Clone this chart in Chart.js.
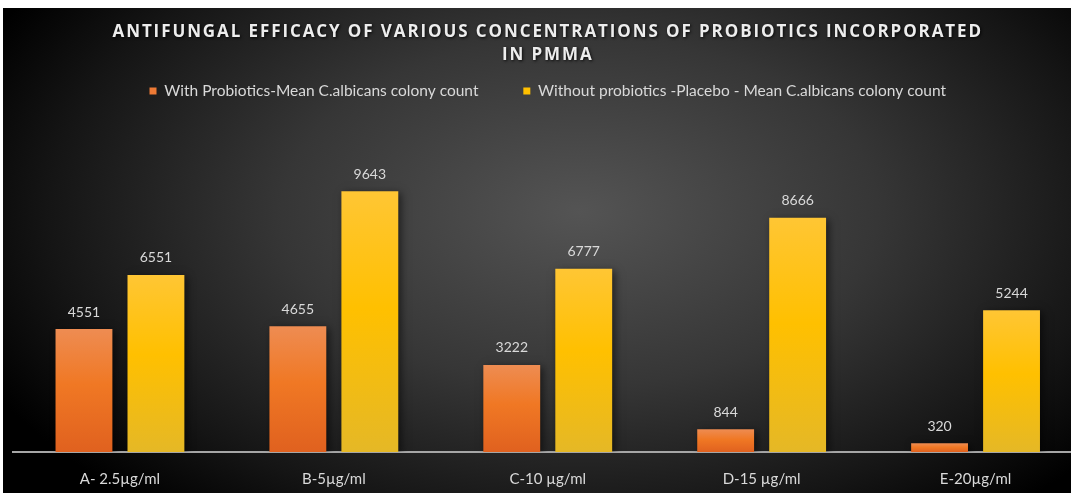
<!DOCTYPE html>
<html>
<head>
<meta charset="utf-8">
<script src="https://cdn.jsdelivr.net/npm/chart.js@4"></script>
<style>
  html, body { margin: 0; padding: 0; background: #fff; overflow: hidden; }
  .frame {
    position: absolute; left: 3px; top: 8px; width: 1068px; height: 485px;
    overflow: hidden;
    background: radial-gradient(ellipse 62% 80% at 54% 42%, #545454 0%, #363636 45%, #151515 80%, #000 100%);
  }
  canvas { position: absolute; left: 0; top: 0; }
</style>
</head>
<body>
<div class="frame"><canvas id="chart" width="1090" height="485"></canvas></div>
<script>
const categories = ['A- 2.5µg/ml', 'B-5µg/ml', 'C-10 µg/ml', 'D-15 µg/ml', 'E-20µg/ml'];
const withProbiotics = [4551, 4655, 3222, 844, 320];
const withoutProbiotics = [6551, 9643, 6777, 8666, 5244];
const seriesNames = [
  'With Probiotics-Mean C.albicans colony count',
  'Without probiotics -Placebo - Mean C.albicans colony count'
];
const titleLines = [
  'ANTIFUNGAL EFFICACY OF VARIOUS CONCENTRATIONS OF PROBIOTICS INCORPORATED',
  'IN PMMA'
];
const yMax = 12700; // hidden value axis

const FONT = 'Lato, "Open Sans", sans-serif';
const TITLE_FONT = '"Open Sans", Lato, sans-serif';

// vertical gradient for each bar, lighter at its own top
function barFill(top, mid, bottom) {
  return (ctx) => {
    const chart = ctx.chart;
    if (!chart.chartArea || ctx.raw === undefined) return mid;
    const y0 = chart.scales.y.getPixelForValue(ctx.raw);
    const y1 = chart.scales.y.getPixelForValue(0);
    const g = chart.ctx.createLinearGradient(0, y0, 0, y1);
    g.addColorStop(0, top);
    g.addColorStop(0.45, mid);
    g.addColorStop(1, bottom);
    return g;
  };
}

const barShadow = {
  id: 'barShadow',
  beforeDatasetsDraw(chart) {
    const c = chart.ctx;
    c.save();
    c.shadowColor = 'rgba(0,0,0,0.55)';
    c.shadowBlur = 8;
    c.shadowOffsetX = 3;
    c.shadowOffsetY = 2;
  },
  afterDatasetsDraw(chart) {
    chart.ctx.restore();
  }
};

// letter spaced, shadowed title
const titleStyle = {
  id: 'titleStyle',
  afterLayout(chart) {
    const t = chart.titleBlock;
    if (!t || t._styled) return;
    const draw = t.draw.bind(t);
    t.draw = function () {
      const c = chart.ctx;
      c.save();
      c.letterSpacing = '1.9px';
      c.shadowColor = 'rgba(0,0,0,0.85)';
      c.shadowBlur = 3;
      c.shadowOffsetX = 1;
      c.shadowOffsetY = 1;
      draw();
      c.restore();
    };
    t._styled = true;
  }
};

const valueLabels = {
  id: 'valueLabels',
  afterDatasetsDraw(chart) {
    const c = chart.ctx;
    c.save();
    c.font = '14px ' + FONT;
    c.fillStyle = '#d9d9d9';
    c.textAlign = 'center';
    c.textBaseline = 'middle';
    chart.data.datasets.forEach((ds, i) => {
      chart.getDatasetMeta(i).data.forEach((bar, j) => {
        c.fillText(String(ds.data[j]), bar.x, bar.y - 17);
      });
    });
    c.restore();
  }
};

new Chart(document.getElementById('chart'), {
  type: 'bar',
  data: {
    labels: categories,
    datasets: [
      {
        label: seriesNames[0],
        data: withProbiotics,
        backgroundColor: barFill('#ee8c52', '#f07824', '#e0611f'),
        borderWidth: 0
      },
      {
        label: seriesNames[1],
        data: withoutProbiotics,
        backgroundColor: barFill('#ffc634', '#ffc000', '#e5b826'),
        borderWidth: 0
      }
    ]
  },
  plugins: [barShadow, valueLabels, titleStyle],
  options: {
    responsive: false,
    animation: false,
    layout: { padding: { left: 10, right: 10.5, top: 0, bottom: 6 } },
    datasets: {
      bar: { categoryPercentage: 0.673, barPercentage: 0.79 }
    },
    scales: {
      x: {
        grid: { display: false, drawTicks: false },
        border: { display: true, color: '#a6a6a6', width: 2 },
        ticks: { color: '#d9d9d9', font: { family: FONT, size: 15 }, padding: 18, maxRotation: 0 },
        afterFit(scale) { scale.height = 35; }
      },
      y: {
        display: false,
        min: 0,
        max: yMax
      }
    },
    plugins: {
      title: {
        display: true,
        text: titleLines,
        color: '#ededed',
        font: { family: TITLE_FONT, size: 17, weight: 'bold', lineHeight: 23 / 17 },
        padding: { top: 12.5, bottom: 6.75 }
      },
      legend: {
        position: 'top',
        labels: {
          color: '#d9d9d9',
          font: { family: FONT, size: 15.5 },
          boxWidth: 7,
          boxHeight: 7,
          padding: 10,
          generateLabels(chart) {
            return chart.data.datasets.map((ds, i) => ({
              text: i === 0 ? ds.label + '\u2003\u2003\u2003' : ds.label,
              fillStyle: i === 0 ? '#ee7a35' : '#ffc000',
              strokeStyle: 'transparent',
              lineWidth: 0,
              fontColor: '#d9d9d9',
              datasetIndex: i
            }));
          }
        }
      },
      tooltip: { enabled: false }
    }
  }
});
</script>
</body>
</html>
